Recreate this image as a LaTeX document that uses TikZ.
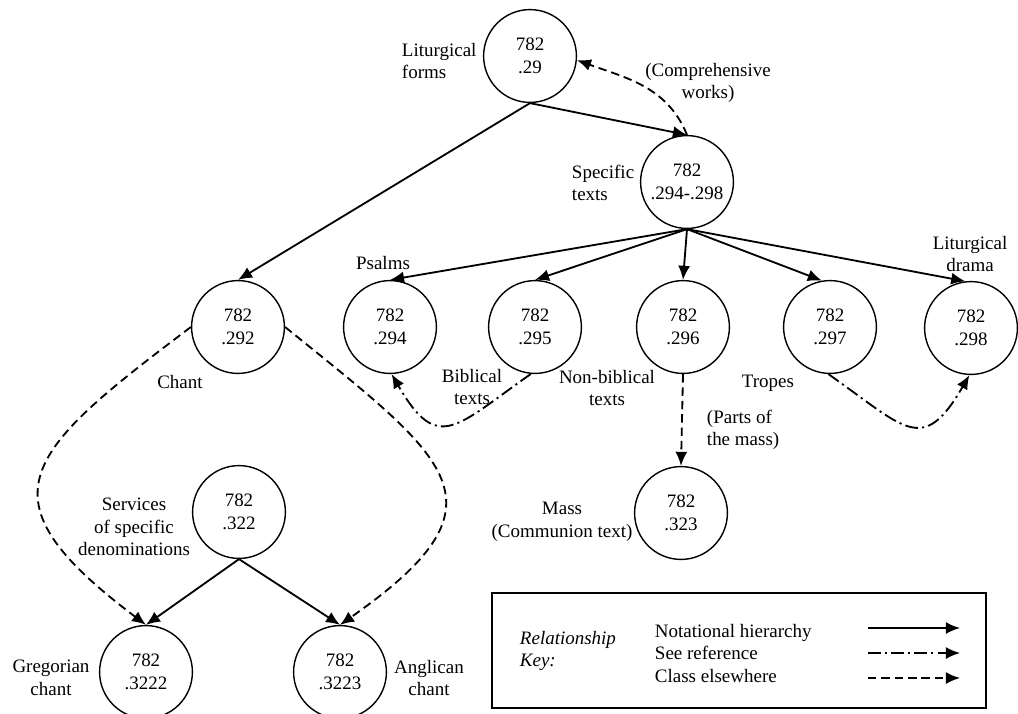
\documentclass[tikz,border=0pt]{standalone}
\usepackage{fontspec}
\setmainfont{Liberation Serif}
\usetikzlibrary{arrows.meta}
\begin{document}
\begin{tikzpicture}
	[x=0.025cm,y=0.025cm,
	font=\fontsize{13.5}{16}\selectfont,
	every circle node/.style={draw,line width=1pt,minimum size=2.32cm,inner sep=0pt,align=center},
	lbl/.style={align=center},
	hier/.style={draw,-{Latex[length=10pt,width=8.5pt]},line width=1.3pt},
	seeref/.style={hier,dash pattern=on 9pt off 3pt on 1.5pt off 3pt},
	elsewhere/.style={hier,dash pattern=on 6pt off 3.5pt}]
	\useasboundingbox (0,0) rectangle (1018,-713);
	% classes
	\node[circle] (A) at (530,-56) {782\\.29};
	\node[circle] (B) at (687,-182) {782\\.294-.298};
	\node[circle] (C) at (238,-327) {782\\.292};
	\node[circle] (D) at (390,-327) {782\\.294};
	\node[circle] (E) at (535,-327) {782\\.295};
	\node[circle] (F) at (683,-327) {782\\.296};
	\node[circle] (G) at (830,-327) {782\\.297};
	\node[circle] (H) at (971,-328) {782\\.298};
	\node[circle] (I) at (681,-513) {782\\.323};
	\node[circle] (J) at (239,-512) {782\\.322};
	\node[circle] (K) at (146,-672) {782\\.3222};
	\node[circle] (L) at (340,-672) {782\\.3223};
	% captions
	\node[anchor=west,align=left] (lA) at (397,-61) {Liturgical\\forms};
	\node[lbl] (lAB) at (708,-83) {(Comprehensive\\works)};
	\node[anchor=west,align=left] (lB) at (567,-183) {Specific\\texts};
	\node[lbl] (lC) at (180,-382) {Chant};
	\node[lbl] (lD) at (383,-263) {Psalms};
	\node[lbl] (lE) at (472,-387) {Biblical\\texts};
	\node[lbl] (lF) at (607,-388) {Non-biblical\\texts};
	\node[lbl] (lG) at (768,-383) {Tropes};
	\node[lbl] (lH) at (970,-254) {Liturgical\\drama};
	\node[anchor=west,align=left] (lFI) at (702,-430) {(Parts of\\the mass)};
	\node[lbl] (lI) at (562,-522) {Mass\\(Communion text)};
	\node[lbl] (lJ) at (134,-527) {Services\\of specific\\denominations};
	\node[lbl] (lK) at (51,-678) {Gregorian\\chant};
	\node[lbl] (lL) at (429,-678) {Anglican\\chant};
	% key
	\node[draw,line width=1pt,minimum width=12.35cm,minimum height=2.875cm] (key) at (739,-650.5) {};
	\node[anchor=west,align=left,font=\fontsize{13.5}{16}\selectfont\itshape] (keyhead) at (515,-651) {Relationship\\Key:};
	\node[anchor=west,align=left] (keytext) at (650,-653) {Notational hierarchy\\See reference\\Class elsewhere};
	\coordinate (k1) at (868,-628); \coordinate (k1e) at (960,-628);
	\coordinate (k2) at (868,-653); \coordinate (k2e) at (960,-653);
	\coordinate (k3) at (868,-678); \coordinate (k3e) at (960,-678);
	% notational hierarchy
	\path[every edge/.style={hier}]
	(A.south) edge (C.north)
	(A.south) edge (B.north)
	(B.south) edge (D.north)
	(B.south) edge (E.north)
	(B.south) edge (F.north)
	(B.south) edge (G.100)
	(B.south) edge (H.97)
	(J.south) edge (K.north)
	(J.south) edge (L.north)
	(k1) edge (k1e);
	% see reference
	\path[every edge/.style={seeref}]
	(E.265) edge[out=-145,in=-60,looseness=1.7] (D.272)
	(G.268) edge[out=-35,in=-120,looseness=1.7] (H.268)
	(k2) edge (k2e);
	% class elsewhere
	\path[every edge/.style={elsewhere}]
	(B.north) edge[out=112,in=-20] (A.-5)
	(C.west) edge[out=217,in=143,looseness=1.8] (K.north)
	(C.east) edge[out=-39,in=35,looseness=1.8] (L.north)
	(F.south) edge (I.north)
	(k3) edge (k3e);
\end{tikzpicture}
\end{document}
